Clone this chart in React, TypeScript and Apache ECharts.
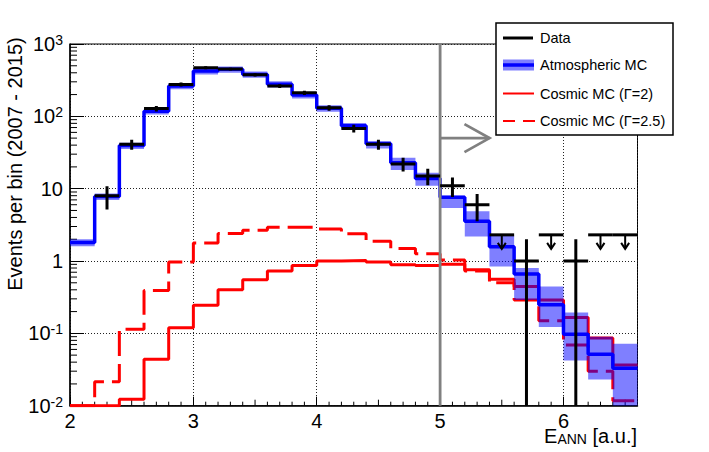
import React, { useEffect, useRef } from 'react';
import * as echarts from 'echarts';

// ---------------- data ----------------
const binStarts = [2.0, 2.2, 2.4, 2.6, 2.8, 3.0, 3.2, 3.4, 3.6, 3.8, 4.0, 4.2, 4.4, 4.6, 4.8, 5.0, 5.2, 5.4, 5.6, 5.8, 6.0, 6.2, 6.4];
const binWidth = 0.2;

const atmosphericMC = [1.8, 7.8, 39.5, 118, 262, 423, 446, 380, 278, 197, 129, 74, 41.7, 22.8, 13.8, 7.6, 3.54, 1.57, 0.66, 0.248, 0.0975, 0.0515, 0.033];
const atmosphericLow = [1.6, 7.0, 35.5, 106, 236, 380, 401, 342, 250, 177, 116, 66, 35.9, 18.1, 11.0, 5.4, 2.19, 0.84, 0.29, 0.122, 0.042, 0.023, 0.01];
const atmosphericHigh = [2.0, 8.6, 43, 130, 288, 465, 490, 418, 306, 217, 142, 81, 45.5, 26.7, 16.6, 8.0, 4.86, 2.26, 0.8, 0.445, 0.194, 0.09, 0.072];

const cosmicGamma2 = [0.01, 0.01, 0.0123, 0.044, 0.12, 0.245, 0.4, 0.55, 0.73, 0.87, 1.0, 1.02, 0.97, 0.89, 0.87, 0.9, 0.76, 0.56, 0.445, 0.29, 0.166, 0.086, 0.0366];
const cosmicGamma25 = [0.01, 0.0215, 0.114, 0.39, 0.97, 1.78, 2.4, 2.66, 2.92, 2.92, 2.77, 2.39, 1.87, 1.49, 1.26, 1.03, 0.73, 0.5, 0.29, 0.149, 0.069, 0.03, 0.0117];

const dataCenters = [2.3, 2.5, 2.7, 2.9, 3.1, 3.3, 3.5, 3.7, 3.9, 4.1, 4.3, 4.5, 4.7, 4.9, 5.1, 5.3, 5.7, 6.1];
const dataCounts = [8, 41, 128, 276, 471, 450, 375, 262, 212, 131, 68, 41, 22, 15, 11, 6, 1, 1];

const upperLimitCenters = [5.5, 5.9, 6.3, 6.5];
const upperLimitValues = [2.3, 2.3, 2.3, 2.3];

const xMin = 2;
const xMax = 6.6;
const yMin = 0.01;
const yMax = 1000;

const cutValue = 5;
const arrowLevel = 50;
const arrowTip = 5.4;

const yMinorMantissas = [2, 3, 4, 5, 6, 7, 8, 9];
const yDecades = [0.01, 0.1, 1, 10, 100];

const legendLabels = ['Data', 'Atmospheric MC', 'Cosmic MC (\u0393=2)', 'Cosmic MC (\u0393=2.5)'];

const FONT = '"Liberation Sans", Arial, Helvetica, sans-serif';

function stepData(vals: number[]) {
  const pts: number[][] = binStarts.map((x, i) => [x, vals[i]]);
  const last = binStarts.length - 1;
  pts.push([+(binStarts[last] + binWidth).toFixed(2), vals[last]]);
  return pts;
}

export default function App() {
  const ref = useRef<HTMLDivElement>(null);

  useEffect(() => {
    if (!ref.current) return;
    const chart = echarts.init(ref.current, undefined, { renderer: 'svg' });

    const yMinorTicks: number[] = [];
    yDecades.forEach((d) => yMinorMantissas.forEach((m) => yMinorTicks.push(+(m * d).toPrecision(3))));
    const xMinorTicks: number[] = [];
    for (let k = 21; k < 66; k++) {
      if (k % 10 !== 0) xMinorTicks.push(k / 10);
    }

    const grid = { left: 70, top: 44, right: 71.5, bottom: 46.3 };

    const option: any = {
      animation: false,
      backgroundColor: '#fff',
      grid: { ...grid, show: true, borderColor: '#000', borderWidth: 1, backgroundColor: 'transparent' },
      xAxis: {
        type: 'value',
        min: xMin,
        max: xMax,
        interval: 1,
        axisLine: { show: true, lineStyle: { color: '#000', width: 1.5 } },
        axisTick: { show: true, inside: true, length: 9, lineStyle: { color: '#000', width: 1 } },
        splitLine: { show: true, lineStyle: { color: '#222', width: 1, type: [1, 2] } },
        axisLabel: {
          color: '#000',
          fontSize: 20,
          fontFamily: FONT,
          margin: 5,
          showMaxLabel: false,
          formatter: (v: number) => (Math.abs(v - Math.round(v)) < 1e-6 ? String(Math.round(v)) : ''),
        },
      },
      yAxis: {
        type: 'log',
        logBase: 10,
        min: yMin,
        max: yMax,
        axisLine: { show: true, lineStyle: { color: '#000', width: 1.5 } },
        axisTick: { show: true, inside: true, length: 14, lineStyle: { color: '#000', width: 1 } },
        splitLine: { show: true, lineStyle: { color: '#222', width: 1, type: [1, 2] } },
        axisLabel: {
          color: '#000',
          fontSize: 20,
          fontFamily: FONT,
          margin: 7,
          lineHeight: 22,
          formatter: (v: number) => {
            const e = Math.round(Math.log10(v));
            if (e === 0) return '1';
            if (e === 1) return '10';
            return '10{sup|' + e + '}';
          },
          rich: {
            sup: { fontSize: 14, fontFamily: FONT, color: '#000', verticalAlign: 'top', lineHeight: 13 },
          },
        },
      },
      series: [
        // minor ticks (axis decoration)
        {
          type: 'custom',
          silent: true,
          z: 3,
          data: yMinorTicks.map((v) => [xMin, v]),
          renderItem: (params: any, api: any) => {
            const p = api.coord([api.value(0), api.value(1)]);
            return { type: 'line', shape: { x1: p[0], y1: p[1], x2: p[0] + 7, y2: p[1] }, style: { stroke: '#000', lineWidth: 1 } };
          },
        },
        {
          type: 'custom',
          silent: true,
          z: 3,
          data: xMinorTicks.map((x) => [x, yMin]),
          renderItem: (params: any, api: any) => {
            const x = api.value(0);
            const p = api.coord([x, api.value(1)]);
            const half = Math.abs(x * 10 - Math.round(x) * 10) === 5;
            return { type: 'line', shape: { x1: p[0], y1: p[1], x2: p[0], y2: p[1] - (half ? 6 : 4) }, style: { stroke: '#000', lineWidth: 1 } };
          },
        },
        // cosmic Γ=2 (solid)
        {
          name: 'Cosmic MC (\u0393=2)',
          type: 'line',
          step: 'end',
          symbol: 'none',
          silent: true,
          z: 4,
          data: stepData(cosmicGamma2),
          lineStyle: { color: '#ff0000', width: 3 },
        },
        // cosmic Γ=2.5 (dashed)
        {
          name: 'Cosmic MC (\u0393=2.5)',
          type: 'line',
          step: 'end',
          symbol: 'none',
          silent: true,
          z: 4,
          data: stepData(cosmicGamma25),
          lineStyle: { color: '#ff0000', width: 3, type: [25, 8] },
        },
        // atmospheric MC band
        {
          type: 'custom',
          silent: true,
          z: 5,
          clip: true,
          data: binStarts.map((x, i) => [x, atmosphericLow[i], atmosphericHigh[i]]),
          encode: { x: 0, y: [1, 2] },
          renderItem: (params: any, api: any) => {
            const x0 = api.value(0);
            const p1 = api.coord([x0, api.value(2)]);
            const p2 = api.coord([x0 + binWidth, api.value(1)]);
            return {
              type: 'rect',
              shape: { x: p1[0], y: p1[1], width: p2[0] - p1[0], height: p2[1] - p1[1] },
              style: { fill: 'rgba(0,0,255,0.5)' },
            };
          },
        },
        // atmospheric MC line
        {
          name: 'Atmospheric MC',
          type: 'line',
          step: 'end',
          symbol: 'none',
          silent: true,
          z: 6,
          data: stepData(atmosphericMC),
          lineStyle: { color: '#0000ff', width: 3.5 },
        },
        // cut line and arrow
        {
          type: 'custom',
          silent: true,
          z: 7,
          data: [[cutValue, arrowLevel, arrowTip]],
          renderItem: (params: any, api: any) => {
            const xc = api.value(0);
            const top = api.coord([xc, yMax]);
            const bot = api.coord([xc, yMin]);
            const a0 = api.coord([xc, api.value(1)]);
            const a1 = api.coord([api.value(2), api.value(1)]);
            const st = { stroke: '#808080', lineWidth: 2.8, fill: 'none' };
            return {
              type: 'group',
              children: [
                { type: 'line', shape: { x1: top[0], y1: top[1], x2: bot[0], y2: bot[1] }, style: st },
                { type: 'line', shape: { x1: a0[0], y1: a0[1], x2: a1[0], y2: a1[1] }, style: st },
                { type: 'polyline', shape: { points: [[a1[0] - 25, a1[1] - 14], [a1[0], a1[1]], [a1[0] - 25, a1[1] + 14]] }, style: st },
              ],
            };
          },
        },
        // data points
        {
          name: 'Data',
          type: 'custom',
          silent: true,
          z: 8,
          clip: true,
          data: dataCenters.map((x, i) => [x, dataCounts[i]]),
          renderItem: (params: any, api: any) => {
            const x = api.value(0);
            const n = api.value(1);
            const err = Math.sqrt(n);
            const l = api.coord([x - binWidth / 2, n]);
            const r = api.coord([x + binWidth / 2, n]);
            const t = api.coord([x, n + err]);
            const b = api.coord([x, Math.max(n - err, yMin)]);
            const st = { stroke: '#000', lineWidth: 3 };
            return {
              type: 'group',
              children: [
                { type: 'line', shape: { x1: l[0], y1: l[1], x2: r[0], y2: r[1] }, style: st },
                { type: 'line', shape: { x1: t[0], y1: t[1], x2: b[0], y2: b[1] }, style: st },
              ],
            };
          },
        },
        // upper limits
        {
          type: 'custom',
          silent: true,
          z: 8,
          data: upperLimitCenters.map((x, i) => [x, upperLimitValues[i]]),
          renderItem: (params: any, api: any) => {
            const x = api.value(0);
            const v = api.value(1);
            const l = api.coord([x - binWidth / 2, v]);
            const r = api.coord([x + binWidth / 2, v]);
            const c = api.coord([x, v]);
            return {
              type: 'group',
              children: [
                { type: 'line', shape: { x1: l[0], y1: l[1], x2: r[0], y2: r[1] }, style: { stroke: '#000', lineWidth: 3 } },
                { type: 'line', shape: { x1: c[0], y1: c[1], x2: c[0], y2: c[1] + 14 }, style: { stroke: '#000', lineWidth: 2 } },
                { type: 'polyline', shape: { points: [[c[0] - 4, c[1] + 8], [c[0], c[1] + 14], [c[0] + 4, c[1] + 8]] }, style: { stroke: '#000', lineWidth: 2, fill: 'none' } },
              ],
            };
          },
        },
      ],
      graphic: [
        {
          type: 'text',
          x: 15,
          y: 164,
          rotation: Math.PI / 2,
          z: 50,
          style: {
            text: 'Events per bin (2007 - 2015)',
            fontSize: 20,
            fontFamily: FONT,
            fill: '#000',
            textAlign: 'center',
            align: 'center',
            textVerticalAlign: 'middle',
            verticalAlign: 'middle',
          },
        },
        {
          type: 'text',
          x: 637,
          y: 436,
          z: 50,
          style: {
            text: 'E{sub|ANN} [a.u.]',
            fontSize: 20,
            fontFamily: FONT,
            fill: '#000',
            lineHeight: 20,
            textAlign: 'right',
            align: 'right',
            textVerticalAlign: 'middle',
            verticalAlign: 'middle',
            rich: { sub: { fontSize: 14, fontFamily: FONT, fill: '#000', verticalAlign: 'bottom', lineHeight: 4 } },
          },
        },
        // legend box
        {
          type: 'group',
          z: 100,
          children: [
            { type: 'rect', shape: { x: 496, y: 23, width: 177, height: 112 }, style: { fill: '#fff', stroke: '#000', lineWidth: 1.5 }, z: 100 },
            { type: 'line', shape: { x1: 503, y1: 38, x2: 533, y2: 38 }, style: { stroke: '#000', lineWidth: 3 }, z: 101 },
            { type: 'rect', shape: { x: 503, y: 59.5, width: 31, height: 11 }, style: { fill: 'rgba(0,0,255,0.5)' }, z: 101 },
            { type: 'line', shape: { x1: 503, y1: 65, x2: 534, y2: 65 }, style: { stroke: '#0000ff', lineWidth: 3.5 }, z: 102 },
            { type: 'line', shape: { x1: 503, y1: 93.5, x2: 534, y2: 93.5 }, style: { stroke: '#ff0000', lineWidth: 2 }, z: 101 },
            { type: 'line', shape: { x1: 503, y1: 121, x2: 536, y2: 121 }, style: { stroke: '#ff0000', lineWidth: 2, lineDash: [12, 8] }, z: 101 },
            ...legendLabels.map((t, i) => ({
              type: 'text',
              x: 540,
              y: [38, 65, 93.5, 121][i],
              z: 102,
              style: {
                text: t,
                fontSize: 14.5,
                fontFamily: FONT,
                fill: '#000',
                textAlign: 'left',
                align: 'left',
                textVerticalAlign: 'middle',
                verticalAlign: 'middle',
              },
            })),
          ],
        },
      ],
    };

    chart.setOption(option);
    return () => chart.dispose();
  }, []);

  return (
    <div
      ref={ref}
      style={{ position: 'fixed', left: 0, top: 0, width: 709, height: 452, background: '#fff' }}
    />
  );
}
